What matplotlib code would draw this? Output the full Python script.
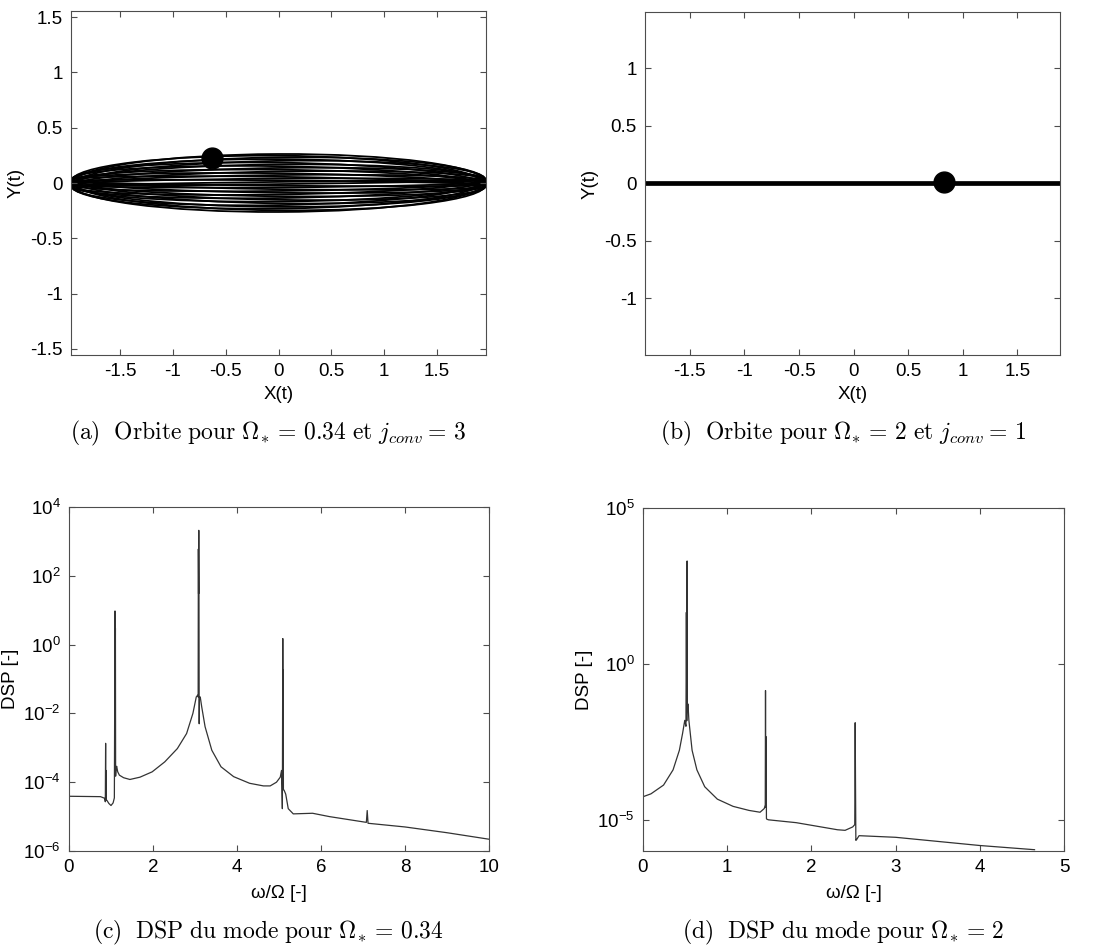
import numpy as np
import matplotlib
matplotlib.use("Agg")
from matplotlib import pyplot as plt
from matplotlib.patches import Ellipse
from matplotlib.ticker import FixedLocator, FormatStrFormatter, NullLocator

plt.rcParams['font.family'] = ['Liberation Sans', 'DejaVu Sans']
plt.rcParams['axes.unicode_minus'] = False
plt.rcParams['mathtext.fontset'] = 'custom'
plt.rcParams['mathtext.rm'] = 'Liberation Sans'
plt.rcParams['mathtext.it'] = 'Liberation Sans:italic'

# (a) orbit loops: x half-width and y half-heights / tilts of the loops
orbit_a_half_x = 1.96
orbit_a_half_y = [0.262, 0.247, 0.232, 0.216, 0.2, 0.184, 0.168, 0.152, 0.136, 0.12,
                  0.104, 0.088, 0.072, 0.056, 0.04, 0.024, 0.01]
orbit_a_tilt = [0.2, -0.5, 0.7, -0.3, 0.9, -0.8, 0.5, -0.9, 0.8, -0.6, 0.9, -0.7,
                0.6, -0.8, 0.4, -0.5, 0.7]
point_a = (-0.63, 0.23)

# (b) orbit collapsed on the x axis
orbit_b_x = [-1.9, 1.9]
orbit_b_y = [0.0, 0.0]
point_b = (0.83, 0.01)

# (c) DSP, Omega* = 0.34
freq_c = [0.0, 0.75, 0.85, 0.865, 0.872, 0.875, 0.878, 0.882, 0.90, 0.95, 1.0, 1.05, 1.08,
          1.09, 1.095, 1.10, 1.105, 1.11, 1.12, 1.135, 1.16, 1.2, 1.3, 1.45, 1.69, 1.98,
          2.28, 2.58, 2.8, 2.95, 3.03, 3.065, 3.075, 3.08, 3.085, 3.09, 3.095, 3.10, 3.105,
          3.125, 3.16, 3.24, 3.4, 3.62, 3.92, 4.3, 4.63, 4.79, 4.94, 5.03, 5.06, 5.07,
          5.08, 5.09, 5.095, 5.10, 5.105, 5.12, 5.16, 5.22, 5.34, 5.8, 6.2, 7.08, 7.1,
          7.12, 8.0, 9.0, 10.0]
dsp_c = [3.9e-5, 3.8e-5, 3.4e-5, 2.7e-5, 1.35e-3, 3.0e-5, 2.2e-4, 3.0e-5, 3.0e-5, 2.4e-5,
         2.1e-5, 2.5e-5, 3.5e-5, 1.0e-1, 9.5e0, 8.0e-2, 3.0e0, 1.5e-4, 2.5e-4, 2.9e-4,
         2.0e-4, 1.6e-4, 1.35e-4, 1.2e-4, 1.4e-4, 2.0e-4, 3.9e-4, 9.5e-4, 2.6e-3, 1.0e-2,
         3.0e-2, 3.4e-2, 3.0e-2, 6.0e2, 3.0e1, 2.1e3, 2.5e1, 5.0e-3, 3.0e-2, 3.0e-2,
         1.55e-2, 4.1e-3, 8.5e-4, 2.8e-4, 1.45e-4, 9.3e-5, 7.8e-5, 7.8e-5, 1.0e-4, 1.4e-4,
         2.2e-4, 7.0e-5, 1.7e-5, 1.5e0, 2.0e-2, 1.8e-1, 6.0e-5, 5.9e-5, 4.5e-5, 1.7e-5,
         1.2e-5, 1.25e-5, 1.0e-5, 6.8e-6, 1.5e-5, 6.4e-6, 5.0e-6, 3.4e-6, 2.2e-6]

# (d) DSP, Omega* = 2
freq_d = [0.0, 0.094, 0.244, 0.357, 0.432, 0.47, 0.496, 0.51, 0.515, 0.52, 0.524, 0.527,
          0.531, 0.534, 0.545, 0.583, 0.64, 0.733, 0.883, 1.07, 1.26, 1.39, 1.44, 1.452,
          1.455, 1.458, 1.462, 1.466, 1.47, 1.49, 1.82, 2.31, 2.40, 2.49, 2.515, 2.52,
          2.524, 2.528, 2.532, 2.536, 2.566, 3.0, 4.0, 4.65]
dsp_d = [5.5e-5, 6.8e-5, 1.3e-4, 4.0e-4, 1.7e-3, 5.9e-3, 1.55e-2, 1.0e-2, 4.5e1, 1.5e-2,
         2.0e3, 3.0e-2, 5.0e-2, 5.2e-2, 1.55e-2, 1.7e-3, 4.0e-4, 1.15e-4, 4.6e-5, 2.7e-5,
         2.0e-5, 1.75e-5, 2.3e-5, 3.0e-5, 1.4e-1, 2.5e-5, 4.6e-3, 1.1e-5, 1.05e-5, 1.0e-5,
         8.1e-6, 4.8e-6, 4.6e-6, 5.9e-6, 7.0e-6, 1.3e-2, 1.3e-4, 2.2e-6, 2.3e-6, 2.3e-6,
         3.1e-6, 2.75e-6, 1.5e-6, 1.1e-6]

captions = [r"$\mathrm{(a)\ \ Orbite\ pour\ }\Omega_{\!*}=\,0.34\mathrm{\ et\ }j_{conv}=\,3$",
            r"$\mathrm{(b)\ \ Orbite\ pour\ }\Omega_{\!*}=\,2\mathrm{\ et\ }j_{conv}=\,1$",
            r"$\mathrm{(c)\ \ DSP\ du\ mode\ pour\ }\Omega_{\!*}=\,0.34$",
            r"$\mathrm{(d)\ \ DSP\ du\ mode\ pour\ }\Omega_{\!*}=\,2$"]

W, H = 1097, 947
fig = plt.figure(figsize=(W / 100, H / 100), dpi=100)


def box(l, t, r, b):
    return [l / W, 1 - b / H, (r - l) / W, (b - t) / H]


def style(ax):
    for s in ax.spines.values():
        s.set_color('0.3')
        s.set_linewidth(0.8)
    ax.tick_params(direction='in', length=4, width=0.8, color='0.3', labelsize=13.5,
                   top=True, right=True, pad=6)


ax_a = fig.add_axes(box(71, 11, 486, 355))
ax_b = fig.add_axes(box(645, 12, 1060, 355))
ax_c = fig.add_axes(box(69, 507, 489, 851))
ax_d = fig.add_axes(box(643, 508, 1064, 851))

# (a)
for hy, tilt in zip(orbit_a_half_y, orbit_a_tilt):
    ax_a.add_patch(Ellipse((0, 0), 2 * orbit_a_half_x, 2 * hy, angle=tilt,
                           fill=False, edgecolor='black', linewidth=1.3))
ax_a.plot(*point_a, 'o', color='black', markersize=15)
ax_a.set_xlim(-1.965, 1.965)
ax_a.set_ylim(-1.555, 1.555)
ax_a.set_xticks([-1.5, -1, -0.5, 0, 0.5, 1, 1.5])
ax_a.set_yticks([-1.5, -1, -0.5, 0, 0.5, 1, 1.5])

# (b)
ax_b.plot(orbit_b_x, orbit_b_y, color='black', linewidth=3.4)
ax_b.plot(*point_b, 'o', color='black', markersize=15)
ax_b.set_xlim(-1.91, 1.89)
ax_b.set_ylim(-1.495, 1.49)
ax_b.set_xticks([-1.5, -1, -0.5, 0, 0.5, 1, 1.5])
ax_b.set_yticks([-1, -0.5, 0, 0.5, 1])

for ax in (ax_a, ax_b):
    style(ax)
    ax.xaxis.set_major_formatter(FormatStrFormatter('%g'))
    ax.yaxis.set_major_formatter(FormatStrFormatter('%g'))
    ax.set_xlabel('X(t)', fontsize=13.5, labelpad=4)
    ax.set_ylabel('Y(t)', fontsize=13.5, labelpad=4)

# (c)
ax_c.semilogy(freq_c, dsp_c, color='0.2', linewidth=0.9)
ax_c.set_xlim(0, 10)
ax_c.set_ylim(1e-6, 1e4)
ax_c.yaxis.set_major_locator(FixedLocator([1e-6, 1e-4, 1e-2, 1e0, 1e2, 1e4]))

# (d)
ax_d.semilogy(freq_d, dsp_d, color='0.2', linewidth=0.9)
ax_d.set_xlim(0, 5)
ax_d.set_ylim(1e-6, 1e5)
ax_d.yaxis.set_major_locator(FixedLocator([1e-5, 1e0, 1e5]))

for ax in (ax_c, ax_d):
    style(ax)
    ax.yaxis.set_minor_locator(NullLocator())
    ax.set_xlabel('ω/Ω [-]', fontsize=13.5, labelpad=6)
    ax.set_ylabel('DSP [-]', fontsize=13.5, labelpad=3)

caption_pos = [(268, 433), (843, 433), (268, 932), (843, 932)]
for (cx, cy), txt in zip(caption_pos, captions):
    fig.text(cx / W, 1 - cy / H, txt, ha='center', va='center', fontsize=17,
             math_fontfamily='cm')

fig.savefig('out.png', dpi=100)
